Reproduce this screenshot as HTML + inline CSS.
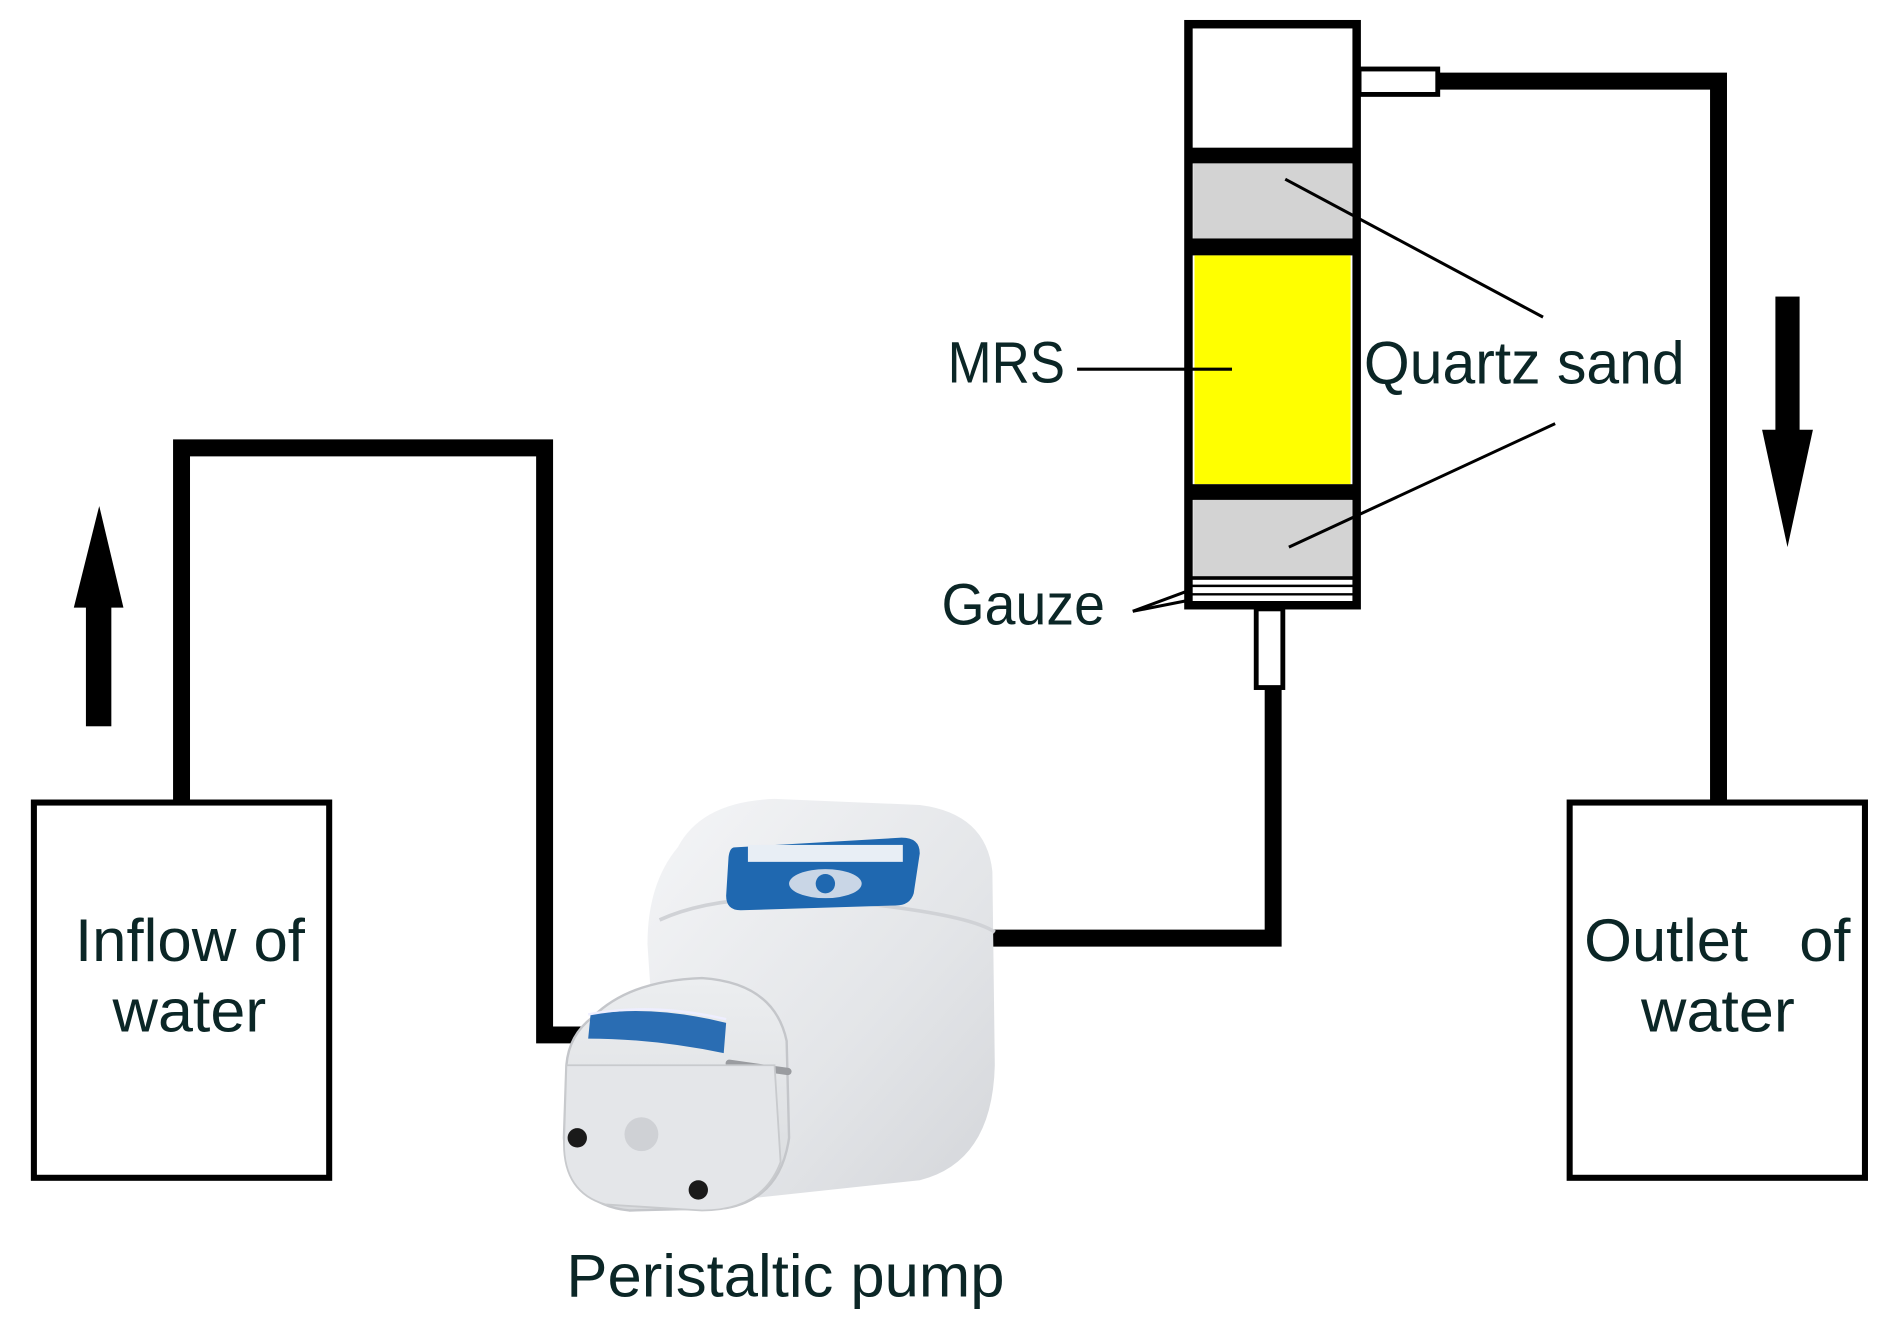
<!DOCTYPE html>
<html><head><meta charset="utf-8"><style>
html,body{margin:0;padding:0;background:#fff;}
svg{display:block;}
text{font-family:"Liberation Sans",sans-serif;fill:#0b2626;}
</style></head><body>
<svg width="1894" height="1340" viewBox="0 0 1565 1107" preserveAspectRatio="none" xmlns="http://www.w3.org/2000/svg">
<defs>
<linearGradient id="bg" x1="0" y1="0" x2="1" y2="1">
<stop offset="0" stop-color="#f4f5f7"/><stop offset="0.6" stop-color="#e3e5e8"/><stop offset="1" stop-color="#d4d6da"/>
</linearGradient>
<linearGradient id="hg" x1="0" y1="0" x2="0" y2="1">
<stop offset="0" stop-color="#eceef0"/><stop offset="1" stop-color="#d8dadd"/>
</linearGradient>
</defs>
<rect x="28" y="663" width="244" height="310" fill="none" stroke="#000" stroke-width="5"/>
<rect x="1297" y="663" width="244" height="310" fill="none" stroke="#000" stroke-width="5"/>
<polyline points="150,663 150,370 450,370 450,855 495,855" fill="none" stroke="#000" stroke-width="14"/>
<polyline points="815,775 1052,775 1052,568" fill="none" stroke="#000" stroke-width="14"/>
<polyline points="1188,67 1420,67 1420,663" fill="none" stroke="#000" stroke-width="14"/>
<rect x="71" y="495" width="21" height="105" fill="#000"/>
<polygon points="82,418 61,502 102,502" fill="#000"/>
<rect x="1467" y="245" width="20" height="115" fill="#000"/>
<polygon points="1477,452 1456,355 1498,355" fill="#000"/>
<rect x="982" y="20" width="139" height="480" fill="#fff" stroke="#000" stroke-width="7"/>
<rect x="985" y="122" width="133" height="13" fill="#000"/>
<rect x="986" y="135" width="131" height="62" fill="#d3d3d3"/>
<rect x="985" y="197" width="133" height="14" fill="#000"/>
<rect x="987" y="211" width="129" height="189" fill="#ffff00"/>
<rect x="985" y="400" width="133" height="13" fill="#000"/>
<rect x="986" y="413" width="131" height="63" fill="#d3d3d3"/>
<rect x="985" y="476" width="133" height="3" fill="#000"/>
<line x1="985" y1="484" x2="1118" y2="484" stroke="#000" stroke-width="2"/>
<line x1="985" y1="491" x2="1118" y2="491" stroke="#000" stroke-width="2"/>
<rect x="1123" y="57" width="65" height="21" fill="#fff" stroke="#000" stroke-width="4"/>
<rect x="1038" y="503" width="22" height="65" fill="#fff" stroke="#000" stroke-width="4"/>
<line x1="890" y1="305" x2="1018" y2="305" stroke="#000" stroke-width="2.5"/>
<line x1="1062" y1="148" x2="1275" y2="262" stroke="#000" stroke-width="2.5"/>
<line x1="1065" y1="452" x2="1285" y2="350" stroke="#000" stroke-width="2.5"/>
<line x1="936" y1="505" x2="982" y2="488" stroke="#000" stroke-width="2.5"/>
<line x1="936" y1="505" x2="982" y2="496" stroke="#000" stroke-width="2.5"/>
<text x="783" y="316" font-size="48" textLength="97" lengthAdjust="spacingAndGlyphs">MRS</text>
<text x="1127" y="317" font-size="50" textLength="265" lengthAdjust="spacingAndGlyphs">Quartz sand</text>
<text x="778" y="516" font-size="48" textLength="135" lengthAdjust="spacingAndGlyphs">Gauze</text>
<text x="62" y="794" font-size="50" textLength="190" lengthAdjust="spacingAndGlyphs">Inflow of</text>
<text x="93" y="852" font-size="50" textLength="127" lengthAdjust="spacingAndGlyphs">water</text>
<text x="1309" y="794" font-size="50" textLength="220" lengthAdjust="spacingAndGlyphs">Outlet&#160;&#160;&#160;of</text>
<text x="1356" y="852" font-size="50" textLength="127" lengthAdjust="spacingAndGlyphs">water</text>
<text x="468" y="1071" font-size="50" textLength="362" lengthAdjust="spacingAndGlyphs">Peristaltic pump</text>
<path d="M560,700 Q580,662 640,660 L760,665 Q815,672 820,720 L822,880 Q820,960 760,975 L620,990 Q560,990 545,930 L535,780 Q535,730 560,700 Z" fill="url(#bg)"/>
<path d="M545,760 Q600,735 700,745 Q800,755 822,770" fill="none" stroke="#d0d2d6" stroke-width="3"/>
<path d="M607,700 L745,692 Q760,692 760,705 L755,738 Q752,748 740,748 L612,752 Q600,752 600,740 L602,708 Q603,700 607,700 Z" fill="#1f68b0"/>
<rect x="618" y="698" width="128" height="14" fill="#e8eef5"/>
<ellipse cx="682" cy="730" rx="30" ry="12" fill="#c9d6e6"/>
<circle cx="682" cy="730" r="8" fill="#1f68b0"/>
<path d="M490,840 Q520,810 580,808 Q640,812 650,860 L652,940 Q645,990 600,998 L520,1000 Q470,995 466,940 L468,880 Q470,855 490,840 Z" fill="url(#hg)" stroke="#c4c6ca" stroke-width="2"/>
<path d="M488,838 Q540,830 600,845 L598,870 Q540,858 486,858 Z" fill="#2a6db3"/>
<path d="M486,838 Q540,828 600,842" fill="none" stroke="#eef" stroke-width="2"/>
<rect x="600" y="875" width="55" height="6" rx="3" fill="#9a9ca0" transform="rotate(8 600 875)"/>
<path d="M468,880 L640,880 L645,960 Q630,1000 580,1000 L500,995 Q466,985 466,945 Z" fill="#e4e6e9" stroke="#c8cacd" stroke-width="1.5"/>
<circle cx="530" cy="937" r="14" fill="#cfd1d5"/>
<circle cx="477" cy="940" r="8" fill="#1a1a1a"/>
<circle cx="577" cy="983" r="8" fill="#1a1a1a"/>
</svg>
</body></html>
